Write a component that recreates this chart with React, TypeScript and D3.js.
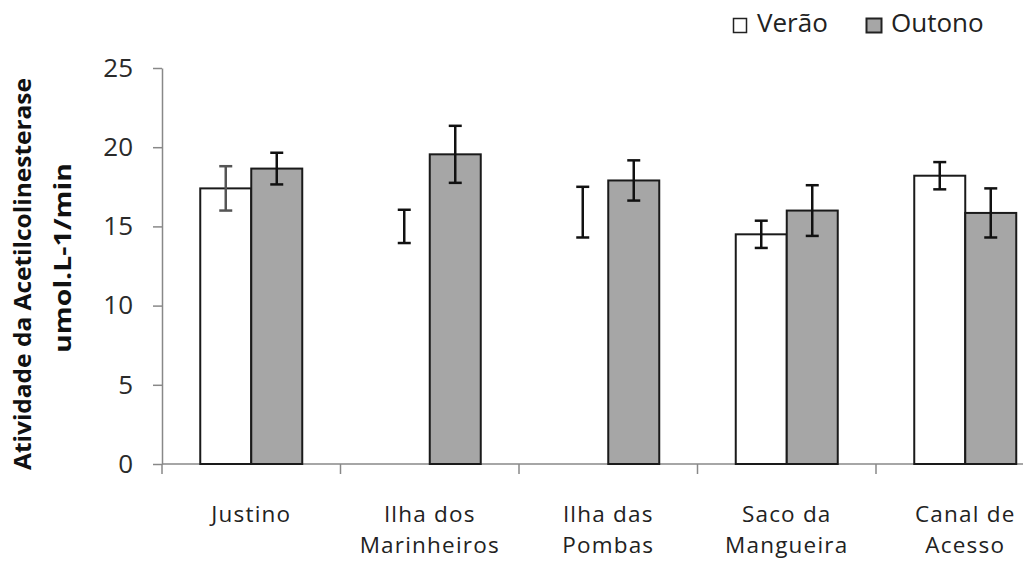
import React, { useEffect, useRef } from 'react'
import * as d3 from 'd3'

// data
const categories = [['Justino'], ['Ilha dos', 'Marinheiros'], ['Ilha das', 'Pombas'], ['Saco da', 'Mangueira'], ['Canal de', 'Acesso']]
const series = ['Verão', 'Outono']
const verao = [17.4, 15.0, 15.9, 14.5, 18.2]
const veraoErr = [1.4, 1.05, 1.6, 0.86, 0.86]
// the summer bars of the two islands are not drawn in the original, only their error bars
const veraoBarVisible = [true, false, false, true, true]
const outono = [18.65, 19.55, 17.9, 16.0, 15.85]
const outonoErr = [1.0, 1.8, 1.27, 1.6, 1.55]
const yTicks = [0, 5, 10, 15, 20, 25]

const W = 1023
const H = 563
const FONT = '"Open Sans", sans-serif'

export default function App() {
    const yAxisRef = useRef<SVGGElement>(null)
    const xAxisRef = useRef<SVGGElement>(null)

    const left = 162
    const step = 178.5
    const names = categories.map(c => c.join(' '))
    const x = d3.scaleBand().domain(names).range([left, left + step * names.length]).padding(0)
    const inner = d3.scaleBand().domain(series).range([0, x.bandwidth()]).paddingInner(0).paddingOuter(0.75)
    const y = d3.scaleLinear().domain([0, 25]).range([464, 68])

    useEffect(() => {
        const ya = d3.select(yAxisRef.current!)
        ya.selectAll('*').remove()
        ya.call(d3.axisLeft(y).tickValues(yTicks).tickSize(9).tickPadding(20).tickSizeOuter(0))
        ya.select('.domain').attr('stroke', '#888').attr('stroke-width', 1.5)
        ya.selectAll('.tick line').attr('stroke', '#888').attr('stroke-width', 1.5)
        ya.selectAll('.tick text')
            .attr('font-family', FONT).attr('font-size', 26).attr('fill', '#2a2a2a')

        const xa = d3.select(xAxisRef.current!)
        xa.selectAll('*').remove()
        xa.append('line')
            .attr('x1', left).attr('x2', W)
            .attr('y1', y(0)).attr('y2', y(0))
            .attr('stroke', '#888').attr('stroke-width', 1.5)
        const bounds = names.map(n => x(n)!)
        xa.selectAll('line.tk').data(bounds).join('line')
            .attr('class', 'tk')
            .attr('x1', d => d).attr('x2', d => d)
            .attr('y1', y(0)).attr('y2', y(0) + 10)
            .attr('stroke', '#888').attr('stroke-width', 1.5)
    }, [])

    const bars: { key: string; x: number; v: number; e: number; fill: string; visible: boolean; errColor: string }[] = []
    names.forEach((n, i) => {
        bars.push({ key: n + 'v', x: x(n)! + inner('Verão')!, v: verao[i], e: veraoErr[i], fill: '#fff', visible: veraoBarVisible[i], errColor: i === 0 ? '#555' : '#111' })
        bars.push({ key: n + 'o', x: x(n)! + inner('Outono')!, v: outono[i], e: outonoErr[i], fill: '#a6a6a6', visible: true, errColor: '#111' })
    })
    const bw = inner.bandwidth()

    return (
        <div style={{ position: 'absolute', left: 0, top: 0 }}>
            <svg width={W} height={H} style={{ display: 'block', background: '#fff' }}>
                {/* legend */}
                <rect x={733.5} y={18.5} width={13} height={14} fill="#fff" stroke="#222" strokeWidth={1.5} />
                <text x={757} y={32} fontFamily={FONT} fontSize={26} fill="#222">Verão</text>
                <rect x={866.5} y={18.5} width={15} height={14} fill="#a6a6a6" stroke="#222" strokeWidth={2} />
                <text x={891} y={32} fontFamily={FONT} fontSize={26} fill="#222">Outono</text>

                {/* y title */}
                <text transform="translate(31,274) rotate(-90)" textAnchor="middle" fontFamily={FONT}
                    fontWeight="bold" fontSize={23} fill="#111" textLength={392} lengthAdjust="spacingAndGlyphs">
                    Atividade da Acetilcolinesterase
                </text>
                <text transform="translate(71,258) rotate(-90)" textAnchor="middle" fontFamily={FONT}
                    fontWeight="bold" fontSize={23} fill="#111" textLength={190} lengthAdjust="spacingAndGlyphs">
                    umol.L-1/min
                </text>

                <g ref={xAxisRef} />

                {bars.map(b => (
                    <g key={b.key}>
                        {b.visible && (
                            <rect x={b.x} y={y(b.v)} width={bw} height={y(0) - y(b.v)}
                                fill={b.fill} stroke="#1a1a1a" strokeWidth={2} />
                        )}
                        <line x1={b.x + bw / 2} x2={b.x + bw / 2} y1={y(b.v + b.e)} y2={y(b.v - b.e)}
                            stroke={b.errColor} strokeWidth={2.5} />
                        <line x1={b.x + bw / 2 - 6.5} x2={b.x + bw / 2 + 6.5} y1={y(b.v + b.e)} y2={y(b.v + b.e)}
                            stroke={b.errColor} strokeWidth={2.5} />
                        <line x1={b.x + bw / 2 - 6.5} x2={b.x + bw / 2 + 6.5} y1={y(b.v - b.e)} y2={y(b.v - b.e)}
                            stroke={b.errColor} strokeWidth={2.5} />
                    </g>
                ))}

                <g ref={yAxisRef} transform={`translate(${left},0)`} />

                {/* category labels */}
                {categories.map((lines, i) =>
                    lines.map((l, j) => (
                        <text key={names[i] + j} x={x(names[i])! + x.bandwidth() / 2} y={522 + j * 31}
                            textAnchor="middle" fontFamily={FONT} fontSize={22.5} letterSpacing={1.2} fill="#222">
                            {l}
                        </text>
                    ))
                )}
            </svg>
        </div>
    )
}
